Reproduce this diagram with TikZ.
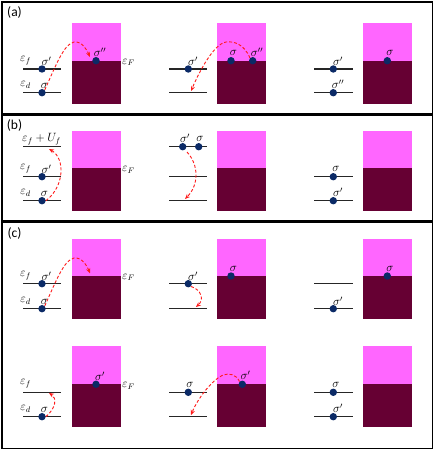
\documentclass[tikz,border=0pt]{standalone}
\usepackage{fontspec}
\setmainfont{Carlito}
\usetikzlibrary{arrows.meta}
\definecolor{navy}{HTML}{0B2A66}
\definecolor{resup}{HTML}{FF66FF}
\definecolor{resdn}{HTML}{660033}
\definecolor{hopred}{HTML}{FF1A1A}
\newcommand\myres[4]{% x1, top, fermi, bottom (width 48.6)
  \fill[resup] (#1,#2) rectangle ++(48.6,#3-#2);
  \fill[resdn] (#1,#3) rectangle ++(48.6,#4-#3);}
\begin{document}
\begin{tikzpicture}[x=1pt,y=-1pt,
  frame/.style={draw=black, line width=1.3pt},
  lvl/.style={line width=1.2pt, black!85},
  el/.style={circle, fill=navy, minimum size=7.4pt, inner sep=0pt},
  lab/.style={inner sep=0pt, font=\fontsize{12}{14}\selectfont},
  plab/.style={inner sep=0pt, font=\fontsize{13.5}{15}\selectfont},
  hop/.style={draw=hopred, line width=0.9pt, dash pattern=on 3pt off 2pt,
    -{Stealth[length=5pt,width=4.2pt]}}]
\useasboundingbox (0,0) rectangle (436,451);
% frames
\draw[frame] (2,2) rectangle (432.7,114);
\draw[frame] (2,115.8) rectangle (432.7,221);
\draw[frame] (2,222.8) rectangle (432.7,448.3);
\node[plab] (pa) at (14.5,12.5) {(a)};
\node[plab] (pb) at (14.5,125.5) {(b)};
\node[plab] (pc) at (14.5,233) {(c)};

% ================= (a) =================
\myres{72}{22.7}{60.7}{103.7}
\myres{217.3}{22.7}{60.7}{103.7}
\myres{363.3}{22.7}{60.7}{103.7}
\draw[lvl] (23.3,69) -- (61,69);
\draw[lvl] (23.3,92.7) -- (61,92.7);
\draw[lvl] (169.3,69) -- (206.7,69);
\draw[lvl] (169.3,92.7) -- (206.7,92.7);
\draw[lvl] (314.3,69) -- (352.7,69);
\draw[lvl] (314.3,92.7) -- (352.7,92.7);
\node[lab] (a-ef) at (25.5,61) {$\varepsilon_f$};
\node[lab] (a-ed) at (25.5,85) {$\varepsilon_d$};
\node[lab] (a-eF) at (128.5,62.5) {$\varepsilon_F$};
\node[el] (a1f) at (42,69) {};
\node[el] (a1d) at (42,92.7) {};
\node[el] (a1r) at (96,60.7) {};
\node[lab] at (46.5,61.5) {$\sigma'$};
\node[lab] at (44.5,85.5) {$\sigma$};
\node[lab] at (100,52.5) {$\sigma''$};
\node[el] (a2f) at (188.3,69) {};
\node[el] (a2r1) at (231,60.7) {};
\node[el] (a2r2) at (252.7,60.7) {};
\node[lab] at (193,61.5) {$\sigma'$};
\node[lab] at (233.5,53) {$\sigma$};
\node[lab] at (257,52.5) {$\sigma''$};
\node[el] (a3f) at (333.3,69) {};
\node[el] (a3d) at (333.3,92.7) {};
\node[el] (a3r) at (387.3,60.7) {};
\node[lab] at (338,61.5) {$\sigma'$};
\node[lab] at (338,84.5) {$\sigma''$};
\node[lab] at (390,53) {$\sigma$};
\coordinate (a1end) at (90,57);
\coordinate (a2end) at (191,91);
\draw[hop] (a1d.north east) .. controls (56,65) and (64,44) .. (74,42)
  .. controls (82,41) and (87,50) .. (a1end);
\draw[hop] (a2r2.north west) .. controls (244,44) and (234,41) .. (226,42)
  .. controls (214,44) and (200,70) .. (a2end);

% ================= (b) =================
\myres{72}{130.7}{168.3}{211}
\myres{217.3}{130.7}{168.3}{211}
\myres{363.3}{130.7}{168.3}{211}
\draw[lvl] (23.3,146.7) -- (61,146.7);
\draw[lvl] (23.3,176.7) -- (61,176.7);
\draw[lvl] (23.3,200.7) -- (61,200.7);
\draw[lvl] (169.3,146.7) -- (206.7,146.7);
\draw[lvl] (169.3,176.7) -- (206.7,176.7);
\draw[lvl] (169.3,200.7) -- (206.7,200.7);
\draw[lvl] (314.3,176.7) -- (352.7,176.7);
\draw[lvl] (314.3,200.7) -- (352.7,200.7);
\node[lab] (b-efu) at (41.5,139.5) {$\varepsilon_f+U_f$};
\node[lab] (b-ef) at (25.5,168.5) {$\varepsilon_f$};
\node[lab] (b-ed) at (25.5,193) {$\varepsilon_d$};
\node[lab] (b-eF) at (128.5,170) {$\varepsilon_F$};
\node[el] (b1f) at (42,176.7) {};
\node[el] (b1d) at (42,200.7) {};
\node[lab] at (46.5,169) {$\sigma'$};
\node[lab] at (44.5,193.5) {$\sigma$};
\node[el] (b2u1) at (182.7,146.7) {};
\node[el] (b2u2) at (198.7,146.7) {};
\node[lab] at (185,138.5) {$\sigma'$};
\node[lab] at (200,138.5) {$\sigma$};
\node[el] (b3f) at (333.3,176.7) {};
\node[el] (b3d) at (333.3,200.7) {};
\node[lab] at (336,168.5) {$\sigma$};
\node[lab] at (338,192.5) {$\sigma'$};
\coordinate (b1end) at (49,149);
\coordinate (b2start) at (187,152);
\coordinate (b2end) at (185,199);
\draw[hop] (b1d.east) .. controls (65,186) and (65,158) .. (b1end);
\draw[hop] (b2start) .. controls (199,165) and (199,185) .. (b2end);

% ================= (c) top =================
\myres{72}{239}{276}{319.3}
\myres{217.3}{239}{276}{319.3}
\myres{363.3}{239}{276}{319.3}
\draw[lvl] (23.3,283.7) -- (61,283.7);
\draw[lvl] (23.3,308.7) -- (61,308.7);
\draw[lvl] (169.3,283.7) -- (206.7,283.7);
\draw[lvl] (169.3,308.7) -- (206.7,308.7);
\draw[lvl] (314.3,283.7) -- (352.7,283.7);
\draw[lvl] (314.3,308.7) -- (352.7,308.7);
\node[lab] (c-ef) at (25.5,275.5) {$\varepsilon_f$};
\node[lab] (c-ed) at (25.5,301) {$\varepsilon_d$};
\node[lab] (c-eF) at (128.5,277.5) {$\varepsilon_F$};
\node[el] (c1f) at (42,283.7) {};
\node[el] (c1d) at (42,308.7) {};
\node[lab] at (46.5,276) {$\sigma'$};
\node[lab] at (44.5,301.5) {$\sigma$};
\node[el] (c2f) at (188.3,283.7) {};
\node[el] (c2r) at (231,276) {};
\node[lab] at (193,276) {$\sigma'$};
\node[lab] at (233.5,268.5) {$\sigma$};
\node[el] (c3d) at (333.3,308.7) {};
\node[el] (c3r) at (387.3,276) {};
\node[lab] at (338,301) {$\sigma'$};
\node[lab] at (390,268.5) {$\sigma$};
\coordinate (c1end) at (90,273.3);
\coordinate (c2end) at (196,307);
\draw[hop] (c1d.north east) .. controls (56,281) and (64,260) .. (74,258)
  .. controls (82,257) and (87,266) .. (c1end);
\draw[hop] (c2f.south east) .. controls (202,290) and (204,300) .. (c2end);

% ================= (c) bottom =================
\myres{72}{346}{384.3}{427.3}
\myres{217.3}{346}{384.3}{427.3}
\myres{363.3}{346}{384.3}{427.3}
\draw[lvl] (23.3,392.3) -- (61,392.3);
\draw[lvl] (23.3,416.7) -- (61,416.7);
\draw[lvl] (169.3,392.3) -- (206.7,392.3);
\draw[lvl] (169.3,416.7) -- (206.7,416.7);
\draw[lvl] (314.3,392.3) -- (352.7,392.3);
\draw[lvl] (314.3,416.7) -- (352.7,416.7);
\node[lab] (d-ef) at (25.5,384) {$\varepsilon_f$};
\node[lab] (d-ed) at (25.5,409) {$\varepsilon_d$};
\node[lab] (d-eF) at (128.5,386) {$\varepsilon_F$};
\node[el] (d1d) at (42,416.7) {};
\node[el] (d1r) at (96,384.3) {};
\node[lab] at (44.5,409.5) {$\sigma$};
\node[lab] at (100,376) {$\sigma'$};
\node[el] (d2f) at (188.3,392.3) {};
\node[el] (d2r) at (242.3,384.3) {};
\node[lab] at (190,384.5) {$\sigma$};
\node[lab] at (245.5,375.5) {$\sigma'$};
\node[el] (d3f) at (333.3,392.3) {};
\node[el] (d3d) at (333.3,416.7) {};
\node[lab] at (336,384.5) {$\sigma$};
\node[lab] at (338,408.5) {$\sigma'$};
\coordinate (d1end) at (49,393);
\coordinate (d2end) at (191,415);
\draw[hop] (d1d.east) .. controls (56,408) and (57,398) .. (d1end);
\draw[hop] (d2r.north west) .. controls (236,374) and (229,373) .. (223,375)
  .. controls (212,380) and (198,398) .. (d2end);
\end{tikzpicture}
\end{document}
